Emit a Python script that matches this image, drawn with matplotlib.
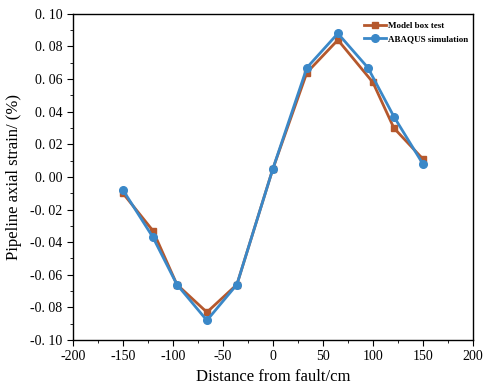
import matplotlib
matplotlib.use('Agg')
import matplotlib.pyplot as plt
from matplotlib.ticker import MultipleLocator, FuncFormatter

# data
model_x = [-150, -120, -96, -66, -36, 0, 34, 65, 100, 121, 150]
model_y = [-0.010, -0.033, -0.066, -0.083, -0.066, 0.005, 0.064, 0.084, 0.058, 0.030, 0.011]
abaqus_x = [-150, -120, -96, -66, -36, 0, 34, 65, 95, 121, 150]
abaqus_y = [-0.008, -0.037, -0.066, -0.088, -0.066, 0.005, 0.067, 0.088, 0.067, 0.037, 0.008]

plt.rcParams['font.family'] = ['Liberation Serif', 'DejaVu Serif']

fig = plt.figure(figsize=(4.83, 3.85), dpi=100)
ax = fig.add_axes([0.151, 0.117, 0.828, 0.847])

ax.plot(model_x, model_y, color='#B5582D', marker='s', markersize=5, linewidth=2,
        label='Model box test')
ax.plot(abaqus_x, abaqus_y, color='#3A88C8', marker='o', markersize=5.5, linewidth=2,
        label='ABAQUS simulation')

ax.set_xlim(-200, 200)
ax.set_ylim(-0.10, 0.10)
ax.xaxis.set_major_locator(MultipleLocator(50))
ax.xaxis.set_minor_locator(MultipleLocator(25))
ax.yaxis.set_major_locator(MultipleLocator(0.02))
ax.yaxis.set_minor_locator(MultipleLocator(0.01))

def yfmt(v, pos):
    s = f"{abs(v):.2f}".replace('.', '. ')
    return ('-' if v < -1e-9 else '') + s

def xfmt(v, pos):
    return ('-' if v < 0 else '') + f"{abs(int(round(v)))}"

ax.yaxis.set_major_formatter(FuncFormatter(yfmt))
ax.xaxis.set_major_formatter(FuncFormatter(xfmt))

ax.tick_params(which='both', direction='out', labelsize=10, color='black')
ax.tick_params(which='major', length=4)
ax.tick_params(which='minor', length=2.5)
for s in ax.spines.values():
    s.set_linewidth(1.0)

ax.set_xlabel('Distance from fault/cm', fontsize=12)
ax.set_ylabel('Pipeline axial strain/ (%)', fontsize=12, labelpad=6)

ax.legend(loc='upper right', bbox_to_anchor=(1.0, 0.99), frameon=False,
          prop={'weight': 'bold', 'size': 6.5},
          handlelength=2.4, handletextpad=0.2, borderaxespad=0.15, labelspacing=0.45)

fig.savefig('out.png', dpi=100)
